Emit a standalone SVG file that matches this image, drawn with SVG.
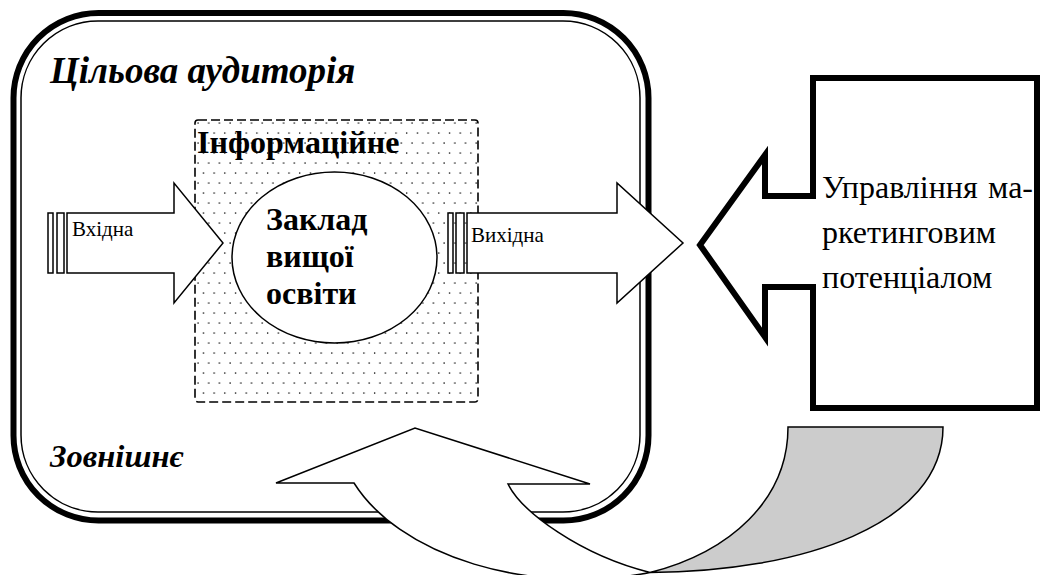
<svg xmlns="http://www.w3.org/2000/svg" width="1042" height="575" viewBox="0 0 1042 575">
<defs>
<pattern id="dots" x="195" y="120" width="10.7" height="20" patternUnits="userSpaceOnUse">
<rect x="2.4" y="2.4" width="1.3" height="1.3" fill="#000"/>
<rect x="7.75" y="12.4" width="1.3" height="1.3" fill="#000"/>
</pattern>
</defs>
<style>
.thin{fill:#fff;stroke:#000;stroke-width:1.5;stroke-linejoin:miter}
</style>
<rect width="1042" height="575" fill="#fff"/>
<g id="audience">
<rect x="13.5" y="13" width="635" height="507.5" rx="85" ry="85" fill="#fff" stroke="#000" stroke-width="6"/>
<rect x="21" y="21" width="619" height="491" rx="77" ry="77" fill="none" stroke="#000" stroke-width="1.5"/>
<text x="50" y="83" font-size="37" font-weight="bold" font-style="italic" style="font-family:'Liberation Serif',serif">Цільова аудиторія</text>
<text x="50" y="467" font-size="32.5" font-weight="bold" font-style="italic" style="font-family:'Liberation Serif',serif">Зовнішнє</text>
</g>
<g id="info-environment">
<rect x="195" y="120" width="283" height="282" rx="3" fill="url(#dots)" stroke="#000" stroke-width="1.6" stroke-dasharray="9 4"/>
<text x="197" y="153" font-size="32" font-weight="bold" style="font-family:'Liberation Serif',serif">Інформаційне</text>
</g>
<g id="connectors">
<g id="input-arrow">
<rect class="thin" x="48" y="213" width="5" height="60"/>
<rect class="thin" x="57" y="213" width="7" height="60"/>
<polygon class="thin" points="67,213 174,213 174,183 223,243 174,303 174,273 67,273"/>
<text x="72" y="236" font-size="21" style="font-family:'Liberation Serif',serif">Вхідна</text>
</g>
<g id="output-arrow">
<rect class="thin" x="448" y="213" width="5" height="60"/>
<rect class="thin" x="456" y="213" width="8" height="60"/>
<polygon class="thin" points="467,213 617,213 617,183 683,243 617,303 617,273 467,273"/>
<text x="471" y="242" font-size="21" style="font-family:'Liberation Serif',serif">Вихідна</text>
</g>
<g id="feedback-arrow">
<path d="M788,427 L943,427 C943,525 800,572 650,572.5 C730,552 788,500 788,427 Z" fill="#cccccc" stroke="#000" stroke-width="1.5"/>
<path d="M354,483 L276,483 L415,428 L590,484 L508,484 C522,512 580,555 650,572.5 A242 152 0 0 1 354,483 Z" fill="#fff" stroke="#000" stroke-width="1.5" stroke-linejoin="miter"/>
</g>
</g>
<g id="hei">
<ellipse cx="334.5" cy="257.5" rx="102.5" ry="85.5" fill="#fff" stroke="#000" stroke-width="1.5"/>
<text font-size="32" font-weight="bold" style="font-family:'Liberation Serif',serif"><tspan x="266" y="230">Заклад</tspan><tspan x="266" y="267">вищої</tspan><tspan x="266" y="304">освіти</tspan></text>
</g>
<g id="management">
<polygon points="813,78 1037,78 1037,408 813,408 813,287 765,287 765,337 700,245 765,155 765,196 813,196" fill="#fff" stroke="#000" stroke-width="6" stroke-linejoin="miter"/>
<text font-size="32" style="font-family:'Liberation Serif',serif"><tspan x="822" y="198">Управління</tspan><tspan x="1033" y="198" text-anchor="end">ма-</tspan><tspan x="822" y="243">ркетинговим</tspan><tspan x="822" y="288">потенціалом</tspan></text>
</g>
</svg>
